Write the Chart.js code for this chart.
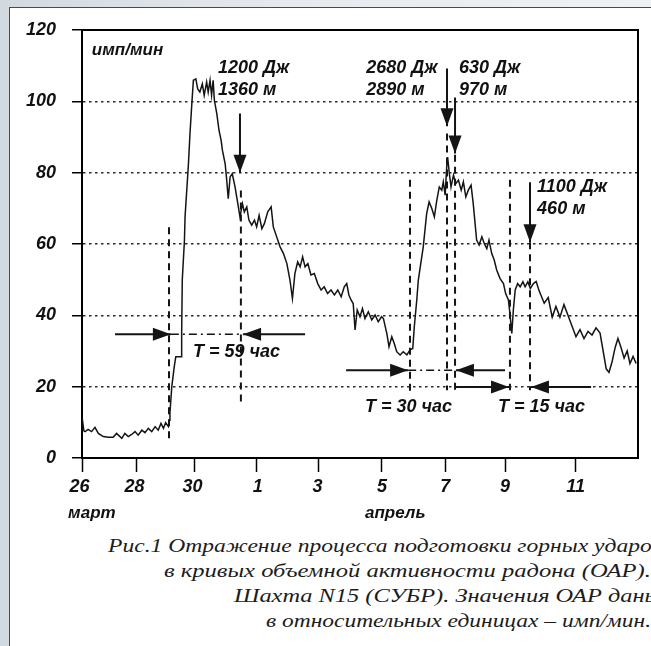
<!DOCTYPE html>
<html lang="ru">
<head>
<meta charset="utf-8">
<title>ОАР, шахта N15</title>
<script src="https://cdn.jsdelivr.net/npm/chart.js@4.4.1/dist/chart.umd.min.js"></script>
<style>
html, body { margin: 0; padding: 0; width: 651px; height: 646px; overflow: hidden;
  background: linear-gradient(to right, #d2d9df, #e6eaee 45%, #eff2f4); }
#panel { position: absolute; left: 9px; top: 7px; width: 700px; height: 700px;
  background: #fff; border: 1.5px solid #4a4a4a; }
#chart { position: absolute; left: 0; top: 0; }
.cap { position: absolute; white-space: nowrap; line-height: 25px; height: 25px;
  font: italic 19px "Liberation Serif", "DejaVu Serif", serif; color: #1c1c1c;
  transform-origin: 0 50%; }
</style>
</head>
<body>
<div id="panel"></div>
<canvas id="chart" width="651" height="530"></canvas>
<div class="cap" data-left="108" data-right="662" style="top:535px">Рис.1 Отражение процесса подготовки горных ударов</div>
<div class="cap" data-left="164" data-right="651" style="top:560px">в кривых объемной активности радона (ОАР).</div>
<div class="cap" data-left="234" data-right="661" style="top:585px">Шахта N15 (СУБР). Значения ОАР даны</div>
<div class="cap" data-left="266" data-right="651" style="top:610px">в относительных единицах – имп/мин.</div>
<script>
// ОАР, имп/мин; x - сутки от 26 марта (по шкале рисунка)
var days = [0.01, 0.06, 0.10, 0.20, 0.31, 0.42, 0.53, 0.69, 0.85, 1.01, 1.12, 1.29, 1.39, 1.50, 1.61, 1.72, 1.82, 1.94,
  2.04, 2.15, 2.26, 2.37, 2.47, 2.56, 2.64, 2.71, 2.80, 2.83, 2.85, 2.91, 2.99, 3.04, 3.21, 3.23, 3.25, 3.32, 3.34,
  3.45, 3.50, 3.56, 3.61, 3.69, 3.75, 3.82, 3.90, 3.96, 4.04, 4.09, 4.15, 4.20, 4.25, 4.29, 4.37, 4.44, 4.51, 4.55,
  4.64, 4.69, 4.74, 4.80, 4.87, 4.96, 5.05, 5.12, 5.20, 5.26, 5.34, 5.41, 5.50, 5.59, 5.66, 5.74, 5.83, 5.91, 6.02,
  6.13, 6.20, 6.31, 6.42, 6.53, 6.64, 6.74, 6.82, 6.90, 6.99, 7.07, 7.15, 7.23, 7.32, 7.42, 7.53, 7.64, 7.75, 7.85,
  7.96, 8.07, 8.18, 8.29, 8.40, 8.50, 8.58, 8.65, 8.72, 8.79, 8.85, 8.92, 9.01, 9.09, 9.17, 9.28, 9.39, 9.50, 9.60,
  9.71, 9.77, 9.88, 9.95, 10.04, 10.12, 10.20, 10.31, 10.41, 10.53, 10.63, 10.72, 10.77, 10.85, 10.90, 11.06, 11.17,
  11.25, 11.34, 11.42, 11.50, 11.58, 11.66, 11.71, 11.77, 11.82, 11.85, 11.90, 11.96, 12.04, 12.11, 12.20, 12.29,
  12.36, 12.44, 12.52, 12.61, 12.68, 12.74, 12.79, 12.87, 12.96, 13.04, 13.12, 13.19, 13.28, 13.36, 13.44, 13.55,
  13.66, 13.73, 13.82, 13.87, 13.93, 13.98, 14.04, 14.12, 14.20, 14.29, 14.36, 14.45, 14.53, 14.63, 14.72, 14.81,
  14.98, 15.11, 15.24, 15.36, 15.49, 15.62, 15.75, 15.88, 16.01, 16.14, 16.27, 16.40, 16.53, 16.66, 16.79, 16.89,
  16.99, 17.08, 17.18, 17.28, 17.37, 17.47, 17.57, 17.67, 17.76, 17.86, 17.96];
var oar = [11, 7.6, 7.4, 8.0, 7.4, 8.6, 6.9, 6.0, 5.8, 5.8, 6.9, 5.5, 6.9, 6.0, 6.6, 7.4, 6.4, 7.8,
  7.1, 8.3, 7.4, 8.8, 7.8, 9.7, 8.3, 9.9, 8.8, 10.6, 12.6, 20.0, 25.6, 28.4, 28.4, 35.0, 49.9, 61.0, 67.6,
  82.5, 91.0, 99.4, 105.9, 106.3, 103.5, 102.6, 104.9, 101.7, 105.4, 102.6, 105.9, 101.7, 105.9, 100.3, 96.5, 91.9, 89.0, 86.3,
  82.5, 77.9, 72.7, 78.8, 79.7, 76.0, 71.3, 67.6, 71.3, 69.0, 70.4, 66.7, 65.3, 66.7, 64.8, 68.0, 64.3, 65.7, 69.0,
  70.4, 64.8, 62.0, 59.2, 57.3, 54.5, 49.9, 44.7, 51.7, 55.0, 53.6, 56.4, 53.6, 54.5, 51.3, 51.7, 48.9, 47.1, 48.0,
  46.1, 47.1, 45.7, 47.1, 45.2, 48.0, 48.9, 45.7, 44.3, 43.3, 35.9, 41.5, 39.6, 41.9, 39.1, 41.0, 38.7, 40.1, 38.2,
  39.6, 39.1, 34.9, 31.2, 34.0, 32.1, 29.8, 28.9, 29.8, 28.9, 30.3, 30.7, 36.8, 44.3, 49.9, 59.2, 68.5,
  71.8, 69.9, 67.6, 72.3, 76.0, 75.1, 77.4, 73.7, 81.6, 84.4, 80.2, 76.0, 79.3, 76.9, 77.9, 75.1,
  77.4, 73.2, 75.1, 76.5, 71.3, 65.7, 61.1, 59.7, 62.0, 60.1, 58.7, 61.1, 57.3, 55.5, 52.7, 50.3,
  48.9, 46.1, 44.3, 40.5, 34.9, 41.5, 47.1, 48.9, 48.0, 49.4, 48.0, 49.4, 47.5, 48.9, 49.5, 47.0,
  43.4, 45.0, 39.5, 42.5, 39.5, 43.0, 40.0, 37.0, 34.0, 36.0, 33.5, 35.5, 34.5, 36.5, 35.0, 30.0,
  25.0, 24.0, 27.0, 31.0, 33.5, 31.0, 28.0, 30.0, 26.5, 28.5, 26.5];

// деления оси X (как на рисунке) и подписи
var tickPos = [0, 1.78, 3.66, 5.67, 7.65, 9.72, 11.77, 13.71, 15.98];
var tickLabels = ['26', '28', '30', '1', '3', '5', '7', '9', '11'];
var labelPos = [-0.08, 1.70, 3.58, 5.70, 7.63, 9.72, 11.77, 13.71, 16.0];
var monthLabels = ['март', 'апрель'];
var monthPos = [-0.45, 9.17];

// вертикальные штриховые линии: x, верх, низ
var markX = [2.82, 5.15, 10.63, 11.83, 12.09, 13.87, 14.52];
var markTop = [64.7, 75, 78, 91, 85, 78, 60.5];
var markBottom = [5, 15.4, 18, 19, 19, 19, 19];

// горные удары: стрелки вниз и подписи
var shockX = [5.12, 11.83, 12.09, 14.52];
var shockTop = [96.6, 109.2, 101.1, 77.3];
var shockTip = [80, 93, 85.4, 60.5];
var shockEnergy = ['1200 Дж', '2680 Дж', '630 Дж', '1100 Дж'];
var shockDist = ['1360 м', '2890 м', '970 м', '460 м'];
var shockTextX = [4.41, 9.21, 12.22, 14.75];
var shockTextY = [109.2, 109.2, 109.2, 75.9];

// интервалы T
var periodLabels = ['T = 59 час', 'T = 30 час', 'T = 15 час'];
var periodY = [34.7, 24.6, 19.9];
var periodTailL = [1.07, 8.56, 12.12];
var periodTipL = [2.88, 10.57, 13.84];
var periodTipR = [5.22, 12.12, 14.55];
var periodTailR = [7.23, 13.71, 16.50];
var periodTextX = [3.60, 9.17, 13.48];
var periodTextY = [29.7, 14.3, 14.3];

var INK = '#141414';
var FONT = 'italic bold 18px "Liberation Sans", Arial, sans-serif';

var datasets = [];
datasets.push({
  data: days.map(function (d, i) { return { x: d, y: oar[i] }; }),
  borderColor: INK, borderWidth: 1.5, pointRadius: 0, tension: 0
});
for (var i = 0; i < markX.length; i++) {
  datasets.push({
    data: [{ x: markX[i], y: markTop[i] }, { x: markX[i], y: markBottom[i] }],
    borderColor: INK, borderWidth: 2, borderDash: [7, 5], pointRadius: 0
  });
}
for (var i = 0; i < shockX.length; i++) {
  datasets.push({
    data: [{ x: shockX[i], y: shockTop[i] }, { x: shockX[i], y: shockTip[i] }],
    borderColor: INK, borderWidth: 2, pointRadius: 0, arrow: true
  });
}
for (var i = 0; i < periodY.length; i++) {
  datasets.push({
    data: [{ x: periodTailL[i], y: periodY[i] }, { x: periodTipL[i], y: periodY[i] }],
    borderColor: INK, borderWidth: 2, pointRadius: 0, arrow: true
  });
  datasets.push({
    data: [{ x: periodTailR[i], y: periodY[i] }, { x: periodTipR[i], y: periodY[i] }],
    borderColor: INK, borderWidth: 2, pointRadius: 0, arrow: true
  });
  if (i < 2) {
    datasets.push({
      data: [{ x: periodTipL[i], y: periodY[i] }, { x: periodTipR[i], y: periodY[i] }],
      borderColor: INK, borderWidth: 1.5, borderDash: [8, 4, 2, 4], pointRadius: 0
    });
  }
}

// наконечники стрелок
var arrowHeads = {
  id: 'arrowHeads',
  afterDatasetsDraw: function (chart) {
    var ctx = chart.ctx;
    chart.data.datasets.forEach(function (ds, k) {
      if (!ds.arrow) return;
      var pts = chart.getDatasetMeta(k).data;
      var a = pts[0], b = pts[pts.length - 1];
      var ang = Math.atan2(b.y - a.y, b.x - a.x);
      var len = 18, half = 6.5;
      var bx = b.x - len * Math.cos(ang), by = b.y - len * Math.sin(ang);
      ctx.save();
      ctx.fillStyle = INK;
      ctx.beginPath();
      ctx.moveTo(b.x, b.y);
      ctx.lineTo(bx + half * Math.sin(ang), by - half * Math.cos(ang));
      ctx.lineTo(bx - half * Math.sin(ang), by + half * Math.cos(ang));
      ctx.closePath();
      ctx.fill();
      ctx.restore();
    });
  }
};

// рамка, подписи оси X и надписи
var figureText = {
  id: 'figureText',
  afterDraw: function (chart) {
    var ctx = chart.ctx, xs = chart.scales.x, ys = chart.scales.y, area = chart.chartArea;
    ctx.save();
    ctx.strokeStyle = '#000';
    ctx.lineWidth = 2;
    ctx.beginPath();
    ctx.moveTo(area.left, area.top);
    ctx.lineTo(area.right, area.top);
    ctx.lineTo(area.right, area.bottom);
    ctx.stroke();

    ctx.fillStyle = '#111';
    ctx.font = FONT;
    ctx.textBaseline = 'middle';
    ctx.textAlign = 'center';
    tickLabels.forEach(function (t, i) {
      ctx.fillText(t, xs.getPixelForValue(labelPos[i]), area.bottom + 29);
    });
    ctx.textAlign = 'left';
    ctx.font = 'italic bold 17px "Liberation Sans", Arial, sans-serif';
    monthLabels.forEach(function (t, i) {
      ctx.fillText(t, xs.getPixelForValue(monthPos[i]), area.bottom + 55);
    });
    ctx.fillText('имп/мин', xs.getPixelForValue(0.32), ys.getPixelForValue(114.3));

    ctx.font = FONT;
    shockEnergy.forEach(function (t, i) {
      var x = xs.getPixelForValue(shockTextX[i]);
      ctx.fillText(t, x, ys.getPixelForValue(shockTextY[i]));
      ctx.fillText(shockDist[i], x, ys.getPixelForValue(shockTextY[i] - 6.1));
    });
    periodLabels.forEach(function (t, i) {
      ctx.fillText(t, xs.getPixelForValue(periodTextX[i]), ys.getPixelForValue(periodTextY[i]));
    });
    ctx.restore();
  }
};

new Chart(document.getElementById('chart'), {
  type: 'line',
  data: { datasets: datasets },
  options: {
    responsive: false,
    animation: false,
    layout: { padding: { top: 30, right: 13, left: 0, bottom: 0 } },
    plugins: { legend: { display: false }, tooltip: { enabled: false } },
    scales: {
      x: {
        type: 'linear', min: 0, max: 18.02,
        afterBuildTicks: function (s) { s.ticks = tickPos.map(function (v) { return { value: v }; }); },
        afterFit: function (s) { s.height = 72; },
        ticks: { display: false },
        border: { display: true, color: '#000', width: 2 },
        grid: { drawOnChartArea: false, drawTicks: true, tickLength: 14, tickColor: '#000', tickWidth: 1.5 }
      },
      y: {
        min: 0, max: 120,
        afterFit: function (s) { s.width = 82; },
        ticks: { stepSize: 20, padding: 16, color: '#111', font: { family: '"Liberation Sans", Arial, sans-serif', size: 18, style: 'italic', weight: 'bold' } },
        border: { display: true, color: '#000', width: 2, dash: [2.5, 3.5] },
        grid: {
          color: function (c) { return (c.tick.value === 0 || c.tick.value === 120) ? 'rgba(0,0,0,0)' : '#2a2a2a'; },
          lineWidth: 1.5, tickLength: 10, tickColor: '#000', tickWidth: 1.5, tickBorderDash: []
        }
      }
    }
  },
  plugins: [arrowHeads, figureText]
});

// подгонка строк подписи под ширину оригинала
document.querySelectorAll('.cap').forEach(function (el) {
  var left = +el.dataset.left, right = +el.dataset.right;
  el.style.left = left + 'px';
  var w = el.getBoundingClientRect().width;
  el.style.transform = 'scaleX(' + ((right - left) / w).toFixed(3) + ')';
});
</script>
</body>
</html>
